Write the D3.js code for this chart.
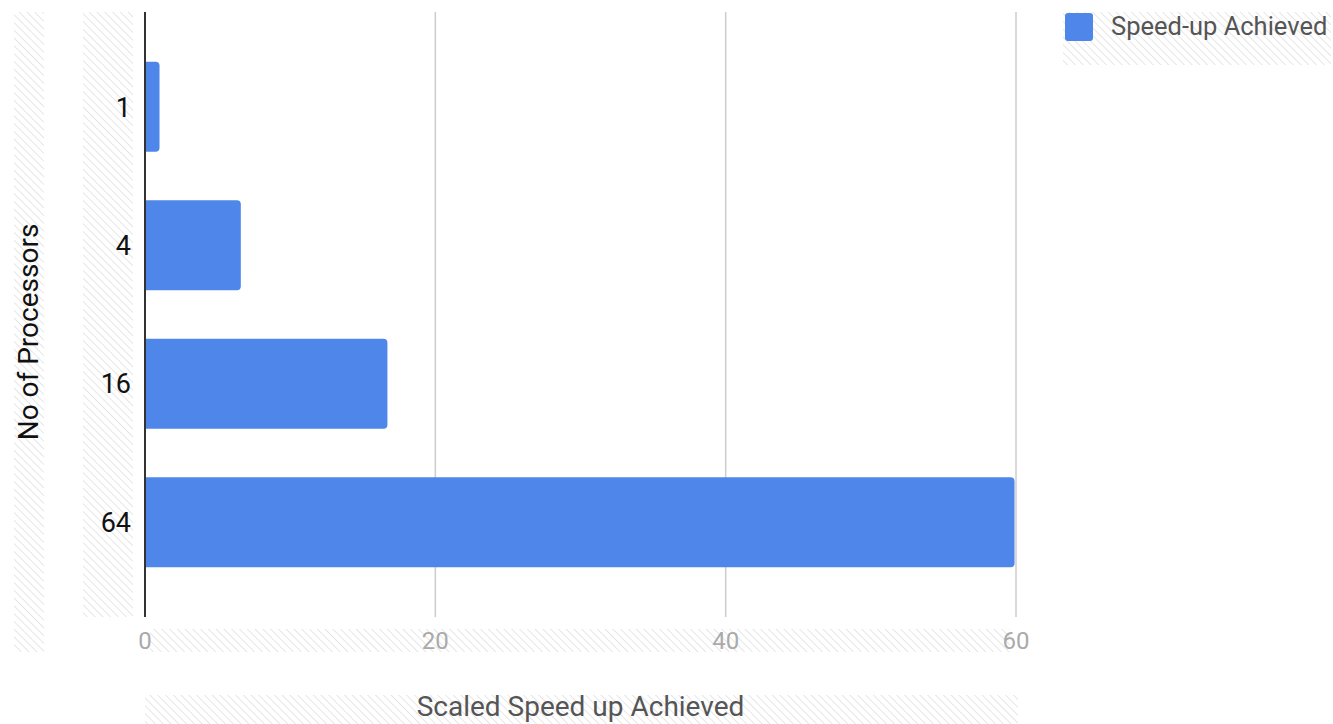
<!DOCTYPE html>
<html>
<head>
<meta charset="utf-8">
<script src="https://cdn.jsdelivr.net/npm/d3@7"></script>
<style>
  html, body { margin: 0; padding: 0; background: #fff; }
  svg { display: block; font-family: Roboto, "Noto Sans", sans-serif; }
</style>
</head>
<body>
<svg id="chart" width="1333" height="724"></svg>
<script>
// Processor counts and the speed-up measured for each
const categories = ["1", "4", "16", "64"];
const speedup = [1, 6.6, 16.7, 59.9];
const xTicks = [0, 20, 40, 60];
const seriesName = "Speed-up Achieved";
const xTitle = "Scaled Speed up Achieved";
const yTitle = "No of Processors";

const svg = d3.select("#chart");
const W = 1333, H = 724;
const m = { left: 145, right: 317, top: 12, bottom: 107 };
const plotW = W - m.left - m.right;
const plotH = H - m.top - m.bottom;

// Diagonal hatch used behind label areas
const defs = svg.append("defs");
const pat = defs.append("pattern")
  .attr("id", "hatch")
  .attr("patternUnits", "userSpaceOnUse")
  .attr("width", 5.5).attr("height", 5.5)
  .attr("patternTransform", "rotate(45)");
pat.append("rect").attr("width", 5.5).attr("height", 5.5).attr("fill", "#fff");
pat.append("line")
  .attr("x1", 0).attr("y1", 0).attr("x2", 5.5).attr("y2", 0)
  .attr("stroke", "#e4e4e4").attr("stroke-width", 1.8);

const hatchAreas = [
  { x: 14, y: 12, w: 30, h: 640 },     // y title
  { x: 83, y: 12, w: 50, h: 605 },     // y tick labels
  { x: 150, y: 629, w: 860, h: 23 },   // x tick labels
  { x: 145, y: 695, w: 873, h: 29 },   // x title
  { x: 1063, y: 12, w: 268, h: 53 }    // legend
];
svg.append("g").selectAll("rect").data(hatchAreas).join("rect")
  .attr("x", d => d.x).attr("y", d => d.y)
  .attr("width", d => d.w).attr("height", d => d.h)
  .attr("fill", "url(#hatch)");

const x = d3.scaleLinear().domain([0, 60]).range([m.left, m.left + plotW]);
const y = d3.scaleBand().domain(categories)
  .range([m.top, m.top + plotH])
  .paddingInner(0.35).paddingOuter(0.36);

// Vertical gridlines
svg.append("g").selectAll("line").data(xTicks.filter(t => t !== 0)).join("line")
  .attr("x1", d => x(d)).attr("x2", d => x(d))
  .attr("y1", m.top).attr("y2", m.top + plotH)
  .attr("stroke", "#cccccc").attr("stroke-width", 1.5);

// Bars: square on the baseline, rounded at the end
const r = 4;
function barPath(v, cat) {
  const x0 = x(0), x1 = x(v), y0 = y(cat), h = y.bandwidth();
  const rr = Math.min(r, (x1 - x0) / 2);
  return `M${x0},${y0}H${x1 - rr}Q${x1},${y0} ${x1},${y0 + rr}` +
         `V${y0 + h - rr}Q${x1},${y0 + h} ${x1 - rr},${y0 + h}H${x0}Z`;
}
svg.append("g").selectAll("path").data(categories).join("path")
  .attr("d", (c, i) => barPath(speedup[i], c))
  .attr("fill", "#4f86ea");

// Zero baseline
svg.append("line")
  .attr("x1", x(0)).attr("x2", x(0))
  .attr("y1", m.top).attr("y2", m.top + plotH)
  .attr("stroke", "#333").attr("stroke-width", 2);

// X tick labels
const xLabels = svg.append("g").selectAll("g").data(xTicks).join("g")
  .attr("transform", d => `translate(${x(d)},0)`);
xLabels.append("text")
  .attr("y", 649)
  .attr("text-anchor", "middle")
  .attr("font-size", 24).attr("fill", "#aaaaaa")
  .text(d => d);

// Y tick labels
svg.append("g").selectAll("text").data(categories).join("text")
  .attr("x", 131).attr("y", d => y(d) + y.bandwidth() / 2)
  .attr("dy", "0.36em")
  .attr("text-anchor", "end")
  .attr("font-size", 27).attr("fill", "#111")
  .text(d => d);

// Axis titles
svg.append("text")
  .attr("x", (x(0) + x(60)) / 2).attr("y", 716)
  .attr("text-anchor", "middle")
  .attr("font-size", 28).attr("fill", "#555")
  .text(xTitle);

svg.append("text")
  .attr("transform", `translate(38,${(12 + 652) / 2}) rotate(-90)`)
  .attr("text-anchor", "middle")
  .attr("font-size", 28).attr("fill", "#111")
  .text(yTitle);

// Legend
svg.append("rect")
  .attr("x", 1065).attr("y", 13).attr("width", 28).attr("height", 28)
  .attr("rx", 3).attr("fill", "#4f86ea");
svg.append("text")
  .attr("x", 1111).attr("y", 35)
  .attr("font-size", 25.5).attr("fill", "#555")
  .text(seriesName);
</script>
</body>
</html>
